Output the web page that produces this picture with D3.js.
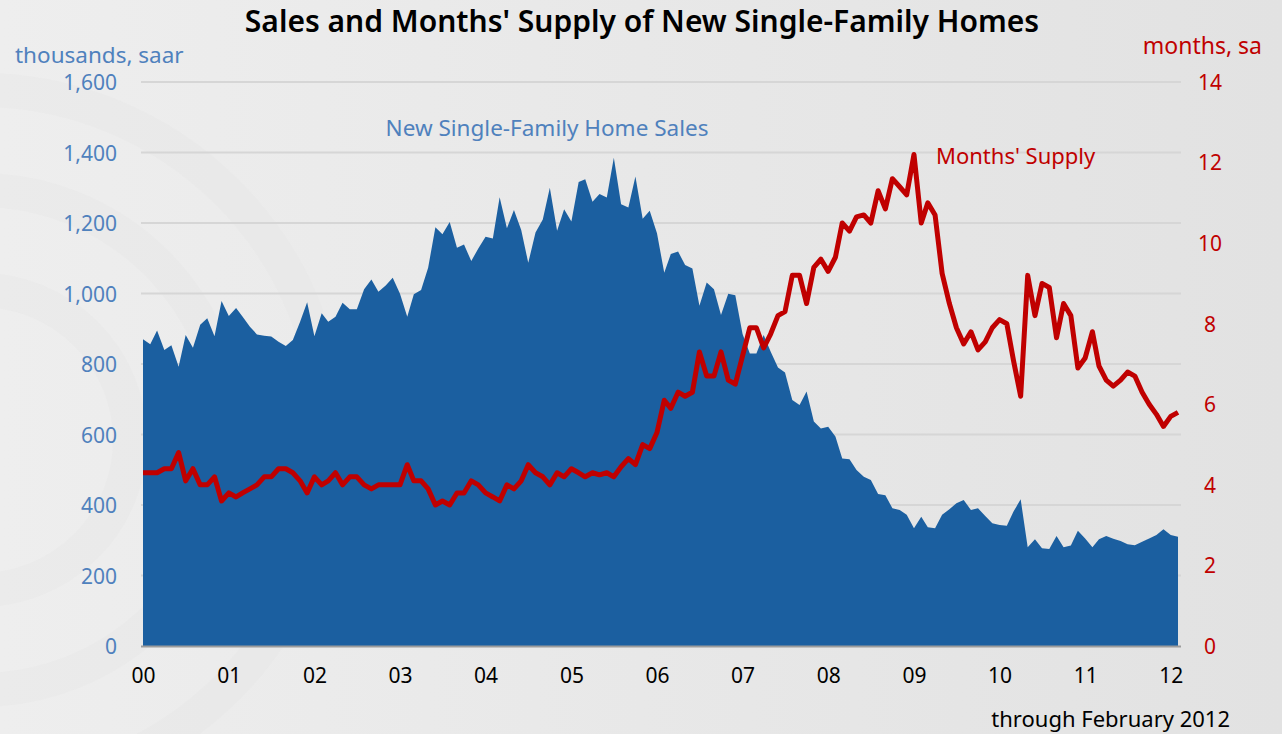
<!DOCTYPE html>
<html>
<head>
<meta charset="utf-8">
<script src="https://cdnjs.cloudflare.com/ajax/libs/d3/7.8.5/d3.min.js"></script>
<style>
  body { margin: 0; background: #ebebeb; }
  svg { display: block; font-family: "Noto Sans", "Open Sans", sans-serif; }
</style>
</head>
<body>
<script>
// monthly, Jan 2000 .. Feb 2012
var startMonth = new Date(2000, 0, 1);

// new single-family home sales, thousands saar
var sales2000 = [870, 856, 895, 840, 853, 792, 882, 846, 911, 930, 879, 979];
var sales2001 = [936, 959, 934, 906, 884, 880, 878, 863, 851, 868, 920, 975];
var sales2002 = [879, 944, 920, 934, 974, 955, 955, 1012, 1040, 1005, 1023, 1045];
var sales2003 = [999, 934, 998, 1010, 1073, 1188, 1168, 1203, 1130, 1139, 1092, 1128];
var sales2004 = [1161, 1156, 1273, 1185, 1237, 1180, 1087, 1173, 1210, 1300, 1178, 1239];
var sales2005 = [1204, 1316, 1324, 1260, 1282, 1272, 1385, 1253, 1244, 1332, 1212, 1235];
var sales2006 = [1171, 1059, 1112, 1119, 1081, 1071, 965, 1031, 1012, 939, 999, 995];
var sales2007 = [885, 830, 830, 882, 835, 790, 776, 698, 684, 722, 637, 617];
var sales2008 = [622, 594, 532, 530, 499, 480, 471, 431, 428, 391, 386, 372];
var sales2009 = [334, 367, 337, 334, 372, 388, 405, 414, 386, 391, 369, 348];
var sales2010 = [343, 341, 381, 416, 280, 303, 277, 275, 312, 280, 285, 327];
var sales2011 = [305, 280, 303, 312, 304, 298, 289, 286, 296, 305, 315, 331];
var sales2012 = [315, 310];

// months' supply, sa
var supply2000 = [4.3, 4.3, 4.3, 4.4, 4.4, 4.8, 4.1, 4.4, 4.0, 4.0, 4.2, 3.6];
var supply2001 = [3.8, 3.7, 3.8, 3.9, 4.0, 4.2, 4.2, 4.4, 4.4, 4.3, 4.1, 3.8];
var supply2002 = [4.2, 4.0, 4.1, 4.3, 4.0, 4.2, 4.2, 4.0, 3.9, 4.0, 4.0, 4.0];
var supply2003 = [4.0, 4.5, 4.1, 4.1, 3.9, 3.5, 3.6, 3.5, 3.8, 3.8, 4.1, 4.0];
var supply2004 = [3.8, 3.7, 3.6, 4.0, 3.9, 4.1, 4.5, 4.3, 4.2, 4.0, 4.3, 4.2];
var supply2005 = [4.4, 4.3, 4.2, 4.3, 4.25, 4.3, 4.2, 4.45, 4.65, 4.5, 5.0, 4.9];
var supply2006 = [5.3, 6.1, 5.9, 6.3, 6.2, 6.3, 7.3, 6.7, 6.7, 7.3, 6.6, 6.5];
var supply2007 = [7.2, 7.9, 7.9, 7.4, 7.75, 8.2, 8.3, 9.2, 9.2, 8.5, 9.4, 9.6];
var supply2008 = [9.3, 9.65, 10.5, 10.3, 10.65, 10.7, 10.5, 11.3, 10.85, 11.6, 11.4, 11.2];
var supply2009 = [12.2, 10.5, 11.0, 10.7, 9.25, 8.5, 7.9, 7.5, 7.8, 7.35, 7.55, 7.9];
var supply2010 = [8.1, 8.0, 7.1, 6.2, 9.2, 8.2, 9.0, 8.9, 7.65, 8.5, 8.2, 6.9];
var supply2011 = [7.15, 7.8, 6.95, 6.6, 6.45, 6.6, 6.8, 6.7, 6.3, 6.0, 5.75, 5.45];
var supply2012 = [5.7, 5.8];

var leftTicks = [0, 200, 400, 600, 800, 1000, 1200, 1400, 1600];
var rightTicks = [0, 2, 4, 6, 8, 10, 12, 14];

var sales = [].concat(sales2000, sales2001, sales2002, sales2003, sales2004, sales2005,
  sales2006, sales2007, sales2008, sales2009, sales2010, sales2011, sales2012);
var supply = [].concat(supply2000, supply2001, supply2002, supply2003, supply2004, supply2005,
  supply2006, supply2007, supply2008, supply2009, supply2010, supply2011, supply2012);

var rows = sales.map(function(s, i) {
  return {date: d3.timeMonth.offset(startMonth, i), sales: s, supply: supply[i]};
});

var W = 1282, H = 734;
var font = '"Noto Sans", "Open Sans", sans-serif';
var svg = d3.select("body").append("svg").attr("width", W).attr("height", H);

// background
var defs = svg.append("defs");
var grad = defs.append("linearGradient").attr("id", "bg").attr("x1", 0).attr("x2", 1).attr("y1", 0).attr("y2", 0);
grad.append("stop").attr("offset", "0%").attr("stop-color", "#eeeeee");
grad.append("stop").attr("offset", "100%").attr("stop-color", "#e2e2e2");
svg.append("rect").attr("width", W).attr("height", H).attr("fill", "url(#bg)");

// very faint watermark rings at the left
svg.append("g").selectAll("circle").data([150, 250, 350]).enter().append("circle")
  .attr("cx", -20).attr("cy", 440).attr("r", function(d) { return d; })
  .attr("fill", "none").attr("stroke", "#e6e6e6").attr("stroke-opacity", 0.4).attr("stroke-width", 34);

var x = d3.scaleTime()
  .domain([rows[0].date, rows[rows.length - 1].date])
  .range([143, 1178]);
var yL = d3.scaleLinear().domain([0, 1600]).range([646, 82]);
var yR = d3.scaleLinear().domain([0, 14]).range([646, 82]);

// gridlines
svg.append("g").selectAll("line").data(leftTicks.slice(1)).enter().append("line")
  .attr("x1", 141).attr("x2", 1181)
  .attr("y1", function(d) { return yL(d); }).attr("y2", function(d) { return yL(d); })
  .attr("stroke", "#d6d6d6").attr("stroke-width", 2);

// sales area
var area = d3.area()
  .x(function(d) { return x(d.date); })
  .y0(yL(0))
  .y1(function(d) { return yL(d.sales); });
svg.append("path").datum(rows).attr("d", area).attr("fill", "#1b5fa0");

// baseline
svg.append("line").attr("x1", 141).attr("x2", 1181).attr("y1", 646.5).attr("y2", 646.5)
  .attr("stroke", "#9c9c9c").attr("stroke-width", 2);

// months' supply line
var line = d3.line()
  .x(function(d) { return x(d.date); })
  .y(function(d) { return yR(d.supply); });
svg.append("path").datum(rows).attr("d", line)
  .attr("fill", "none").attr("stroke", "#c00000").attr("stroke-width", 5)
  .attr("stroke-linejoin", "round");

// axes
var left = svg.append("g").attr("transform", "translate(117,0)")
  .call(d3.axisLeft(yL).tickValues(leftTicks).tickSize(0).tickPadding(0).tickFormat(d3.format(",")));
left.attr("font-family", font).select(".domain").remove();
left.selectAll("text").attr("fill", "#4f81bd").style("font-size", "21px").attr("dy", "0.38em");

var right = svg.append("g").attr("transform", "translate(1210,0)")
  .call(d3.axisRight(yR).tickValues(rightTicks).tickSize(0).tickPadding(0));
right.attr("font-family", font).select(".domain").remove();
right.selectAll("text").attr("fill", "#c00000").style("font-size", "21px")
  .attr("text-anchor", "middle").attr("dy", "0.35em");

var bottom = svg.append("g").attr("transform", "translate(0,676)")
  .call(d3.axisBottom(x).ticks(d3.timeYear.every(1)).tickSize(0).tickPadding(0).tickFormat(d3.timeFormat("%y")));
bottom.attr("font-family", font).select(".domain").remove();
bottom.selectAll("text").attr("fill", "#000").style("font-size", "21px").attr("dy", "0.35em");

// texts
svg.append("text").attr("x", 642).attr("y", 32).attr("text-anchor", "middle")
  .style("font-size", "30px").style("font-weight", 600).attr("fill", "#000")
  .text("Sales and Months' Supply of New Single-Family Homes");
svg.append("text").attr("x", 15).attr("y", 63).style("font-size", "22.5px").attr("fill", "#4f81bd")
  .text("thousands, saar");
svg.append("text").attr("x", 1262).attr("y", 54).attr("text-anchor", "end")
  .style("font-size", "23px").attr("fill", "#c00000").text("months, sa");
svg.append("text").attr("x", 547).attr("y", 136).attr("text-anchor", "middle")
  .style("font-size", "22.5px").attr("fill", "#4f81bd").text("New Single-Family Home Sales");
svg.append("text").attr("x", 936).attr("y", 164)
  .style("font-size", "22px").attr("fill", "#c00000").text("Months' Supply");
svg.append("text").attr("x", 1230).attr("y", 727).attr("text-anchor", "end")
  .style("font-size", "22px").attr("fill", "#000").text("through February 2012");
</script>
</body>
</html>
